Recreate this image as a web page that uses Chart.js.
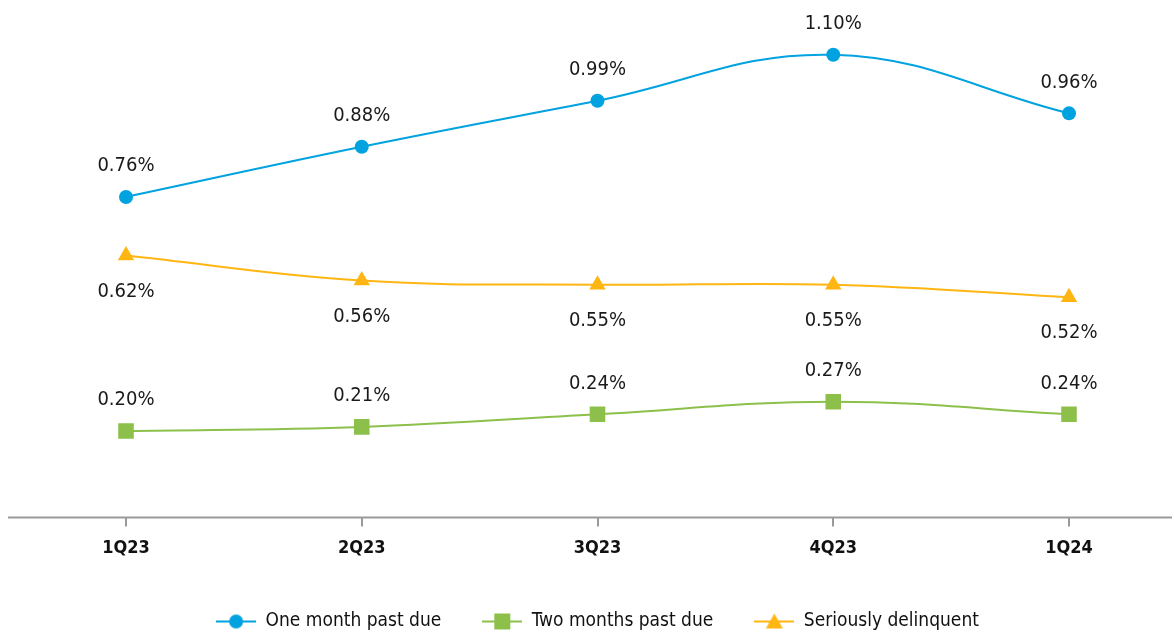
<!DOCTYPE html>
<html lang="en">
<head>
<meta charset="UTF-8">
<title>Delinquency rates</title>
<script src="https://cdn.jsdelivr.net/npm/chart.js@4.4.1/dist/chart.umd.min.js"></script>
<style>
  html, body { margin: 0; padding: 0; background: #fff; }
  #wrap { width: 1174px; height: 632px; }
</style>
</head>
<body>
<div id="wrap"><canvas id="myChart"></canvas></div>
<script>
// data
var quarters = ['1Q23', '2Q23', '3Q23', '4Q23', '1Q24'];
var oneMonth = [0.76, 0.88, 0.99, 1.10, 0.96];
var twoMonths = [0.20, 0.21, 0.24, 0.27, 0.24];
var serious = [0.62, 0.56, 0.55, 0.55, 0.52];

var FONT = '"Liberation Sans Narrow", "DejaVu Sans Condensed", "Roboto", sans-serif';
var BLUE = '#00a3e0', GREEN = '#8cc04b', YELLOW = '#ffb612';

// small line+marker swatch for the legend
function swatch(color, style) {
  var c = document.createElement('canvas');
  c.width = 40; c.height = 18;
  var g = c.getContext('2d');
  g.strokeStyle = color; g.fillStyle = color; g.lineWidth = 2;
  g.beginPath(); g.moveTo(0, 9); g.lineTo(40, 9); g.stroke();
  g.beginPath();
  if (style === 'circle') g.arc(20, 9, 7, 0, Math.PI * 2);
  else if (style === 'rect') g.rect(12, 1, 16, 16);
  else { g.moveTo(20, 1); g.lineTo(28.5, 16); g.lineTo(11.5, 16); g.closePath(); }
  g.fill();
  return c;
}

// value labels above / below points
var valueLabels = {
  id: 'valueLabels',
  afterDatasetsDraw: function(chart) {
    var ctx = chart.ctx;
    ctx.save();
    ctx.font = '20px ' + FONT;
    ctx.fillStyle = '#1a1a1a';
    ctx.textAlign = 'center';
    ctx.textBaseline = 'middle';
    chart.data.datasets.forEach(function(ds, i) {
      var meta = chart.getDatasetMeta(i);
      meta.data.forEach(function(pt, j) {
        var dy = ds.labelBelow ? 36 : -31;
        ctx.fillText(ds.data[j].toFixed(2) + '%', pt.x, pt.y + dy);
      });
    });
    ctx.restore();
  }
};

// axis line runs full width
var axisLine = {
  id: 'axisLine',
  beforeDatasetsDraw: function(chart) {
    var ctx = chart.ctx, y = chart.chartArea.bottom;
    ctx.save();
    ctx.strokeStyle = '#9a9a9a';
    ctx.lineWidth = 2;
    ctx.beginPath(); ctx.moveTo(8, y); ctx.lineTo(1172, y); ctx.stroke();
    ctx.restore();
  }
};

var ctx = document.getElementById('myChart').getContext('2d');
var myChart = new Chart(ctx, {
  type: 'line',
  data: {
    labels: quarters,
    datasets: [{
      label: 'One month past due',
      data: oneMonth,
      borderColor: BLUE, backgroundColor: BLUE,
      pointStyle: 'circle', pointRadius: 7,
      legendIcon: swatch(BLUE, 'circle')
    }, {
      label: 'Two months past due',
      data: twoMonths,
      borderColor: GREEN, backgroundColor: GREEN,
      pointStyle: 'rect', pointRadius: 11,
      legendIcon: swatch(GREEN, 'rect')
    }, {
      label: 'Seriously delinquent',
      data: serious,
      borderColor: YELLOW, backgroundColor: YELLOW,
      pointStyle: 'triangle', pointRadius: 9.5,
      labelBelow: true,
      legendIcon: swatch(YELLOW, 'triangle')
    }]
  },
  options: {
    responsive: true,
    maintainAspectRatio: false,
    animation: false,
    layout: { padding: { top: 13, left: 126, right: 105, bottom: -9 } },
    elements: {
      line: { tension: 0.4, borderWidth: 2 },
      point: { borderWidth: 0, hoverRadius: 8 }
    },
    scales: {
      x: {
        offset: false,
        border: { display: false },
        grid: { drawOnChartArea: false, drawTicks: true, tickLength: 9, color: '#9a9a9a', lineWidth: 2 },
        ticks: { color: '#111', padding: 11, font: { family: FONT, size: 18, weight: 'bold' } },
        afterFit: function(scale) { scale.height += 1; }
      },
      y: {
        display: false,
        min: -0.0065,
        max: 1.2
      }
    },
    plugins: {
      legend: {
        position: 'bottom',
        labels: {
          usePointStyle: true,
          pointStyleWidth: 40,
          color: '#111',
          padding: 41,
          font: { family: FONT, size: 19 },
          generateLabels: function(chart) {
            return chart.data.datasets.map(function(ds, i) {
              return {
                text: ds.label,
                pointStyle: ds.legendIcon,
                fillStyle: ds.borderColor,
                strokeStyle: ds.borderColor,
                lineWidth: 0,
                datasetIndex: i,
                fontColor: '#111'
              };
            });
          }
        }
      },
      tooltip: { enabled: false }
    }
  },
  plugins: [axisLine, valueLabels]
});
</script>
</body>
</html>
